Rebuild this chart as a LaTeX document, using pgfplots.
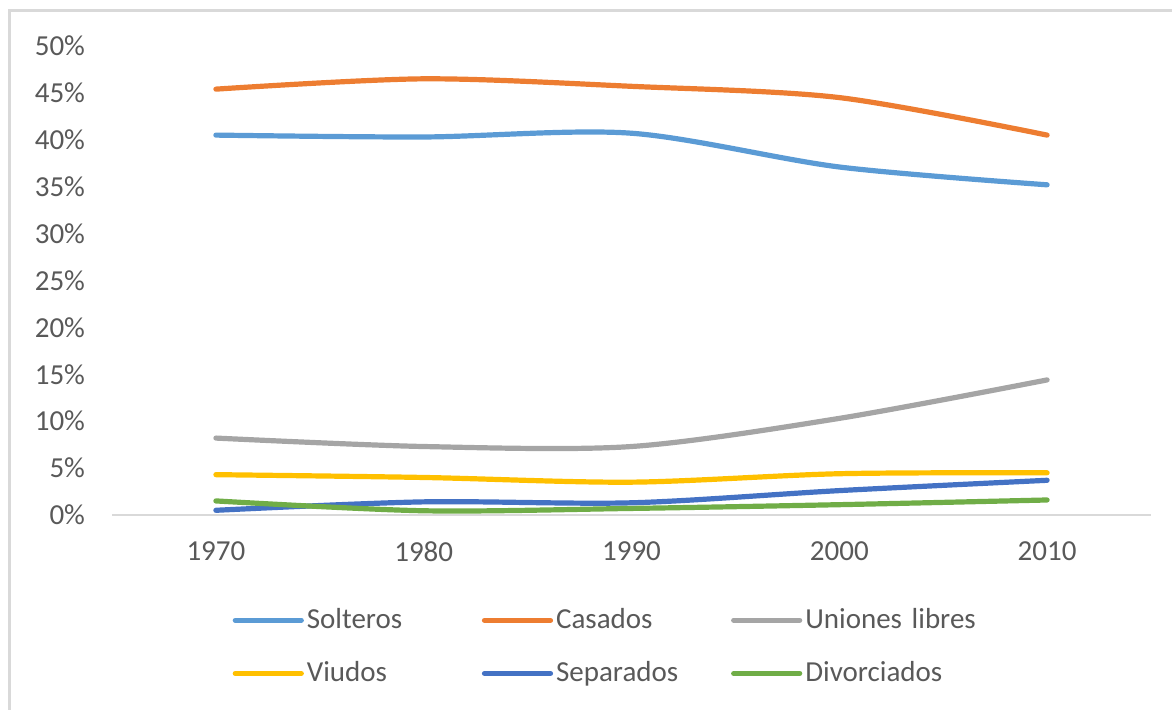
\documentclass[border=0pt]{standalone}
\usepackage{fontspec}
\setmainfont{Carlito}
\usepackage{pgfplots}
\pgfplotsset{compat=1.18}
\usepackage{xcolor}

\definecolor{cSolt}{HTML}{5B9BD5}
\definecolor{cCas}{HTML}{ED7D31}
\definecolor{cUni}{HTML}{A5A5A5}
\definecolor{cViu}{HTML}{FFC000}
\definecolor{cSep}{HTML}{4472C4}
\definecolor{cDiv}{HTML}{70AD47}
\definecolor{txtgray}{HTML}{595959}
\definecolor{linegray}{HTML}{D9D9D9}

\begin{document}
\begin{tikzpicture}
% page frame: 1172x710 px at 0.5pt per px
\path[use as bounding box] (0,0) rectangle (586pt,355pt);
\draw[linegray, line width=1.5pt] (4.75pt,0) -- (4.75pt,349.75pt) -- (586pt,349.75pt);

\begin{axis}[
    at = {(56pt,97.5pt)},
    anchor = south west,
    scale only axis,
    width = 519.5pt,
    height = 234.5pt,
    xmin = -0.5, xmax = 4.5,
    ymin = 0, ymax = 50,
    axis line style = {draw=none},
    xtick = {0,1,2,3,4},
    xticklabels = {1970,1980,1990,2000,2010},
    ytick = {0,5,10,15,20,25,30,35,40,45,50},
    yticklabels = {0\%,5\%,10\%,15\%,20\%,25\%,30\%,35\%,40\%,45\%,50\%},
    major tick length = 0pt,
    tick label style = {font=\fontsize{14.5}{17}\selectfont, text=txtgray},
    yticklabel style = {xshift=-10pt},
    xticklabel style = {yshift=-10pt},
    clip = false,
    legend columns = 3,
    legend cell align = left,
    legend style = {
        draw = none,
        fill = none,
        at = {(rel axis cs:0.11,-0.184)},
        anchor = north west,
        font = \fontsize{14.5}{17}\selectfont,
        text = txtgray,
        row sep = 12pt,
        nodes = {text width=86pt, inner sep=1.5pt},
    },
    legend image code/.code = {
        \draw[line width=2.6pt, line cap=round] (0pt,0pt) -- (33pt,0pt);
    },
    every axis plot/.append style = {line width=2.6pt, smooth, mark=none, line cap=round},
]

% x axis line
\draw[linegray, line width=1pt] (rel axis cs:0,0) -- (rel axis cs:1,0);

\addplot[color=cSolt] coordinates {
(0, 40.5) (1, 40.3) (2, 40.7) (3, 37.1) (4, 35.2)
};
\addlegendentry{Solteros}
\addplot[color=cCas] coordinates {
(0, 45.4) (1, 46.5) (2, 45.7) (3, 44.5) (4, 40.5)
};
\addlegendentry{Casados}
\addplot[color=cUni] coordinates {
(0, 8.2) (1, 7.3) (2, 7.3) (3, 10.3) (4, 14.4)
};
\addlegendentry{Uniones libres}
\addplot[color=cViu] coordinates {
(0, 4.3) (1, 4.0) (2, 3.5) (3, 4.4) (4, 4.5)
};
\addlegendentry{Viudos}
\addplot[color=cSep] coordinates {
(0, 0.5) (1, 1.4) (2, 1.3) (3, 2.6) (4, 3.7)
};
\addlegendentry{Separados}
\addplot[color=cDiv] coordinates {
(0, 1.5) (1, 0.45) (2, 0.7) (3, 1.1) (4, 1.6)
};
\addlegendentry{Divorciados}
\end{axis}
\end{tikzpicture}
\end{document}
